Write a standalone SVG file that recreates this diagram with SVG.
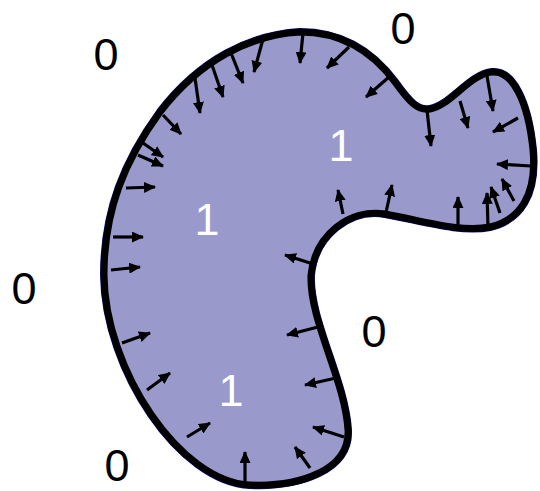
<svg xmlns="http://www.w3.org/2000/svg" width="540" height="491" viewBox="0 0 540 491">
<style>
.shape{fill:#9999cc;stroke:#000;stroke-width:7;stroke-linejoin:round}
.edge{fill:none;stroke:#10108a;stroke-width:8}
.arr line{stroke:#000;stroke-width:3.2;marker-end:url(#ah)}
.zero{font-family:"Liberation Sans",Arial,sans-serif;font-size:45px;fill:#000;text-anchor:middle}
.one{font-family:"Liberation Sans",Arial,sans-serif;font-size:45px;fill:#fff;text-anchor:middle}
</style>
<defs>
<marker id="ah" markerUnits="userSpaceOnUse" markerWidth="13" markerHeight="11" refX="11" refY="5.5" orient="auto">
<path d="M0,0 L12,5.5 L0,11 Z" fill="#000"/>
</marker>
</defs>
<rect width="540" height="491" fill="#fff"/>
<g id="region">
<path id="outline-edge" class="edge" d="M104,275 C104,210 125,160 160,112 C200,60 250,35 300,32 C345,32 375,55 395,82 C410,103 418,111 430,109 C450,106 470,74 492,72 C512,70 528,100 533,150 C537,195 520,220 490,227 C460,233 420,220 385,214 C350,208 315,235 311,275 C309,320 345,380 348,430 C350,470 300,487 250,485 C180,482 105,370 104,275 Z"/>
<path id="outline" class="shape" d="M104,275 C104,210 125,160 160,112 C200,60 250,35 300,32 C345,32 375,55 395,82 C410,103 418,111 430,109 C450,106 470,74 492,72 C512,70 528,100 533,150 C537,195 520,220 490,227 C460,233 420,220 385,214 C350,208 315,235 311,275 C309,320 345,380 348,430 C350,470 300,487 250,485 C180,482 105,370 104,275 Z"/>
</g>
<g id="connectors" class="arr">
<line x1="163" y1="115" x2="181" y2="134"/>
<line x1="143" y1="143" x2="163" y2="157"/>
<line x1="138" y1="155" x2="163" y2="166"/>
<line x1="126" y1="188" x2="155" y2="187"/>
<line x1="113" y1="237" x2="143" y2="237"/>
<line x1="111" y1="270" x2="140" y2="267"/>
<line x1="122" y1="343" x2="150" y2="333"/>
<line x1="147" y1="390" x2="170" y2="373"/>
<line x1="187" y1="437" x2="210" y2="423"/>
<line x1="245" y1="484" x2="245" y2="452"/>
<line x1="310" y1="468" x2="295" y2="447"/>
<line x1="344" y1="437" x2="313" y2="427"/>
<line x1="336" y1="378" x2="305" y2="385"/>
<line x1="318" y1="327" x2="287" y2="335"/>
<line x1="310" y1="263" x2="285" y2="255"/>
<line x1="343" y1="214" x2="338" y2="190"/>
<line x1="385" y1="217" x2="392" y2="185"/>
<line x1="458" y1="231" x2="458" y2="197"/>
<line x1="488" y1="227" x2="487" y2="193"/>
<line x1="500" y1="213" x2="491" y2="187"/>
<line x1="514" y1="201" x2="502" y2="179"/>
<line x1="531" y1="166" x2="497" y2="164"/>
<line x1="518" y1="118" x2="493" y2="132"/>
<line x1="487" y1="76" x2="493" y2="111"/>
<line x1="460" y1="101" x2="468" y2="128"/>
<line x1="427" y1="110" x2="431" y2="146"/>
<line x1="389" y1="77" x2="366" y2="97"/>
<line x1="349" y1="47" x2="327" y2="68"/>
<line x1="303" y1="33" x2="300" y2="63"/>
<line x1="263" y1="39" x2="254" y2="72"/>
<line x1="231" y1="53" x2="243" y2="83"/>
<line x1="212" y1="65" x2="223" y2="97"/>
<line x1="195" y1="78" x2="200" y2="113"/>
</g>
<g id="labels">
<text class="zero" x="106" y="70">0</text>
<text class="zero" x="403" y="44">0</text>
<text class="zero" x="24" y="304">0</text>
<text class="zero" x="374" y="347">0</text>
<text class="zero" x="117" y="481">0</text>
<text class="one" x="341" y="161">1</text>
<text class="one" x="207" y="235">1</text>
<text class="one" x="231" y="406">1</text>
</g>
</svg>
